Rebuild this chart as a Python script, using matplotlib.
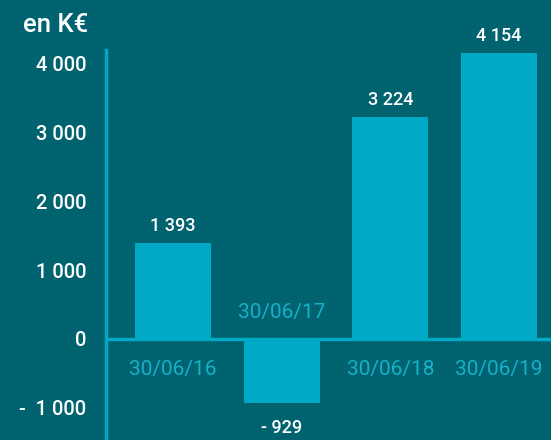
import matplotlib.pyplot as plt

dates = ['30/06/16', '30/06/17', '30/06/18', '30/06/19']
values = [1393, -929, 3224, 4154]
value_labels = ['1 393', '- 929', '3 224', '4 154']
yticks = [-1000, 0, 1000, 2000, 3000, 4000]
ytick_labels = ['-  1 000', '0', '1 000', '2 000', '3 000', '4 000']

bg = '#00636f'
bar_col = '#00a9c6'
lab_col = '#16b0c9'

plt.rcParams['font.family'] = ['Roboto', 'DejaVu Sans']

fig = plt.figure(figsize=(5.51, 4.40), dpi=100, facecolor=bg)
ax = fig.add_axes([106 / 551, 0, 445 / 551, 390 / 440])
ax.set_facecolor(bg)

x = range(len(dates))
ax.bar(x, values, width=0.7, color=bar_col, zorder=2)
ax.axhline(0, color=bar_col, lw=2.5, zorder=3)

ax.set_xlim(-0.617, 3.478)
ax.set_ylim(-1470, 4200)

for s in ['top', 'right', 'bottom']:
    ax.spines[s].set_visible(False)
ax.spines['left'].set_color(bar_col)
ax.spines['left'].set_linewidth(2.5)

ax.set_xticks([])
ax.set_yticks(yticks)
ax.set_yticklabels(ytick_labels)
ax.tick_params(axis='y', length=0, pad=14, labelsize=14.5, labelcolor='white')
for t in ax.get_yticklabels():
    t.set_fontweight('medium')

for i, v in enumerate(values):
    if v >= 0:
        ax.annotate(value_labels[i], (i, v), xytext=(0, 6), textcoords='offset points',
                    ha='center', va='bottom', color='white', fontsize=13, fontweight='medium')
        ax.annotate(dates[i], (i, 0), xytext=(0, -15), textcoords='offset points',
                    ha='center', va='top', color=lab_col, fontsize=15)
    else:
        ax.annotate(value_labels[i], (i, v), xytext=(0, -12), textcoords='offset points',
                    ha='center', va='top', color='white', fontsize=13, fontweight='medium')
        ax.annotate(dates[i], (i, 0), xytext=(0, 12), textcoords='offset points',
                    ha='center', va='bottom', color=lab_col, fontsize=15)

fig.text(88 / 551, 1 - 25 / 440, 'en K€', ha='right', va='center', color='white',
         fontsize=18.5, fontweight='medium')

fig.savefig('out.png', dpi=100, facecolor=bg)
